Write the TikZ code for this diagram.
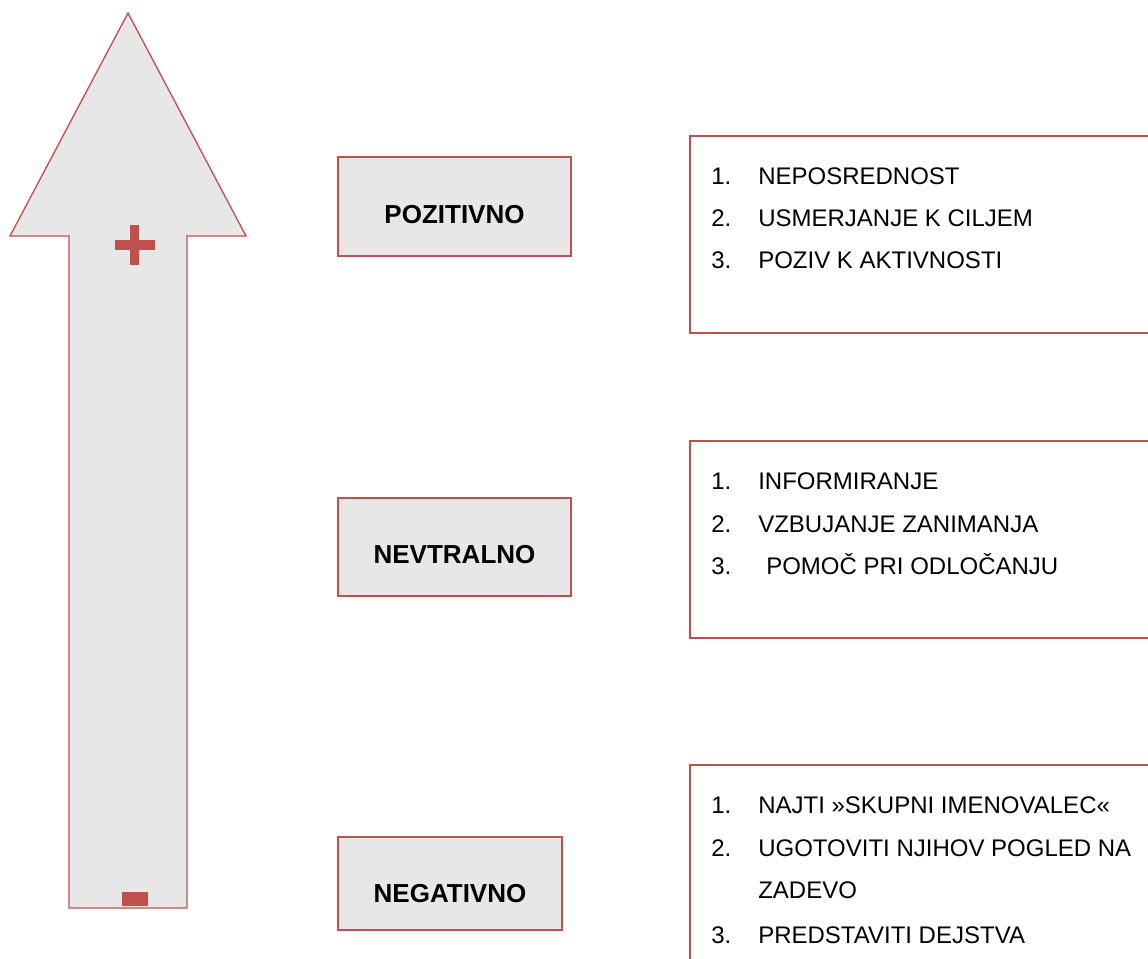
\documentclass[tikz,border=0pt]{standalone}
\usepackage{fontspec}
\setmainfont{Liberation Sans}
\usepackage{xcolor}
\usetikzlibrary{calc}

\definecolor{boxred}{HTML}{C0504D}
\definecolor{boxgray}{HTML}{E7E7E7}

\tikzset{
  lbox/.style={draw=boxred,fill=boxgray,line width=1.5pt,inner sep=0pt},
  rbox/.style={draw=boxred,line width=1.5pt,inner sep=0pt,minimum width=360pt},
  bigtxt/.style={font=\fontsize{19.5}{23}\selectfont\bfseries,inner sep=0pt},
  itemtxt/.style={font=\fontsize{18}{22}\selectfont,inner sep=0pt,anchor=base west}
}

\begin{document}
\begin{tikzpicture}[x=0.75pt,y=-0.75pt]
      \clip (0,0) rectangle (1148,958);
      \fill[white] (0,0) rectangle (1148,958);

      \draw[draw=boxred,fill=boxgray,line width=1pt] (128,13) -- (246,236) -- (187,236) -- (187,908)
        -- (69,908) -- (69,236) -- (10,236) -- cycle;
      \fill[boxred] (115,240) rectangle (155,250);
      \fill[boxred] (130,225) rectangle (139,265);
      \fill[boxred] (122,892) rectangle (148,906);

      \node[lbox,minimum width=174.75pt,minimum height=74.25pt] (poz) at (454.5,206.5) {};
      \node[lbox,minimum width=174.75pt,minimum height=73.5pt] (nev) at (454.5,547) {};
      \node[lbox,minimum width=168pt,minimum height=69.75pt] (neg) at (450,883.5) {};

      \node[bigtxt] (poztxt) at ($(poz.center)+(0,8)$) {POZITIVNO};
      \node[bigtxt] (nevtxt) at ($(nev.center)+(0,8)$) {NEVTRALNO};
      \node[bigtxt] (negtxt) at ($(neg.center)+(0,10)$) {NEGATIVNO};

      \node[rbox,minimum height=147.75pt] (pozlist) at (930,234.5) {};
      \node[rbox,minimum height=147.75pt] (nevlist) at (930,539.5) {};
      \node[rbox,minimum height=176.25pt] (neglist) at (930,882.5) {};

      \node[itemtxt] (pa) at (711,184) {1.};
      \node[itemtxt] (pb) at (711,226.7) {2.};
      \node[itemtxt] (pc) at (711,268.3) {3.};
      \node[itemtxt] (pat) at (758,184) {NEPOSREDNOST};
      \node[itemtxt] (pbt) at (758,226.7) {USMERJANJE K CILJEM};
      \node[itemtxt] (pct) at (758,268.3) {POZIV K AKTIVNOSTI};

      \node[itemtxt] (na) at (711,489) {1.};
      \node[itemtxt] (nb) at (711,532) {2.};
      \node[itemtxt] (nc) at (711,574) {3.};
      \node[itemtxt] (nat) at (758,489) {INFORMIRANJE};
      \node[itemtxt] (nbt) at (758,532) {VZBUJANJE ZANIMANJA};
      \node[itemtxt] (nct) at (766,574) {POMOČ PRI ODLOČANJU};

      \node[itemtxt] (ga) at (711,813) {1.};
      \node[itemtxt] (gb) at (711,856) {2.};
      \node[itemtxt] (gc) at (711,943) {3.};
      \node[itemtxt] (gat) at (758,813) {NAJTI »SKUPNI IMENOVALEC«};
      \node[itemtxt] (gbt) at (758,856) {UGOTOVITI NJIHOV POGLED NA};
      \node[itemtxt] (gbu) at (758,898) {ZADEVO};
      \node[itemtxt] (gct) at (758,943) {PREDSTAVITI DEJSTVA};
    \end{tikzpicture}
\end{document}
